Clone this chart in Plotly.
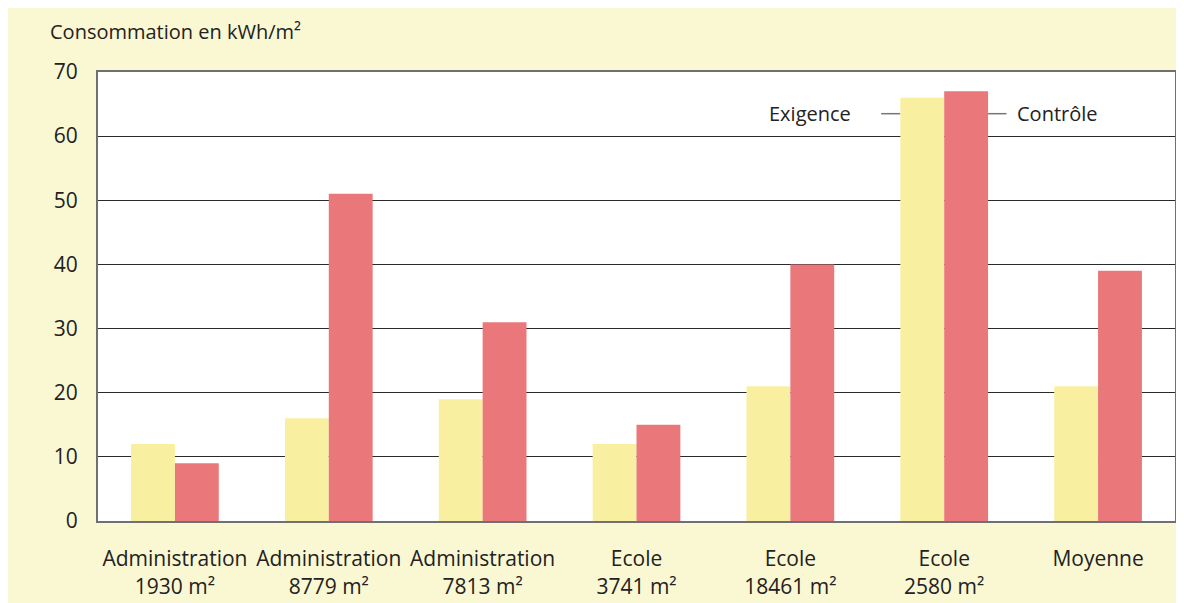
import plotly.graph_objects as go

categories = ["Administration<br>1930 m²", "Administration<br>8779 m²", "Administration<br>7813 m²",
              "Ecole<br>3741 m²", "Ecole<br>18461 m²", "Ecole<br>2580 m²", "Moyenne"]
exigence = [12, 16, 19, 12, 21, 66, 21]
controle = [9, 51, 31, 15, 40, 67, 39]
y_ticks = [0, 10, 20, 30, 40, 50, 60, 70]

FONT = "Open Sans, Noto Sans, sans-serif"
YELLOW = "#F8F0A0"
RED = "#EA777A"
CREAM = "#FAF7D3"

x = list(range(len(categories)))

fig = go.Figure()
fig.add_trace(go.Bar(x=x, y=exigence, name="Exigence", marker=dict(color=YELLOW, line=dict(width=0))))
fig.add_trace(go.Bar(x=x, y=controle, name="Contrôle", marker=dict(color=RED, line=dict(width=0))))

bargap = 0.43
half = (1 - bargap) / 2
k = 5  # category where labels are attached
ly = 63.5
fig.add_shape(type="line", x0=k - half - 0.125, x1=k - half, y0=ly, y1=ly,
              line=dict(color="#777777", width=1.5), layer="below")
fig.add_shape(type="line", x0=k + half, x1=k + half + 0.12, y0=ly, y1=ly,
              line=dict(color="#777777", width=1.5), layer="below")
fig.add_annotation(x=k - half - 0.31, y=ly, text="Exigence", showarrow=False, xanchor="right",
                   yanchor="middle", font=dict(size=20, color="#222222", family=FONT))
fig.add_annotation(x=k + half + 0.175, y=ly, text="Contrôle", showarrow=False, xanchor="left",
                   yanchor="middle", font=dict(size=20, color="#222222", family=FONT))
fig.add_annotation(xref="paper", yref="paper", x=-0.0464, y=1.055, text="Consommation en kWh/m²",
                   showarrow=False, xanchor="left", yanchor="bottom",
                   font=dict(size=20, color="#222222", family=FONT))

fig.update_layout(
    width=1184, height=603,
    margin=dict(l=90, r=17, t=64, b=90),
    paper_bgcolor=CREAM, plot_bgcolor="white",
    barmode="group", bargap=bargap, bargroupgap=0,
    showlegend=False,
    font=dict(family=FONT, size=20, color="#222222"),
)
fig.update_xaxes(
    tickmode="array", tickvals=x, ticktext=categories, range=[-0.5, len(categories) - 0.5],
    showline=True, linecolor="#707070", linewidth=2, mirror=True, showgrid=False,
    ticks="", ticklabelstandoff=18, tickfont=dict(size=21, color="#222222"), zeroline=False,
)
fig.update_yaxes(
    tickmode="array", tickvals=y_ticks, range=[0, 70],
    showline=True, linecolor="#707070", linewidth=2, mirror=True,
    showgrid=True, gridcolor="#2a2a2a", gridwidth=1, zeroline=False,
    ticks="", ticklabelstandoff=14, tickfont=dict(size=21, color="#222222"),
)

fig.write_html("out.html")
